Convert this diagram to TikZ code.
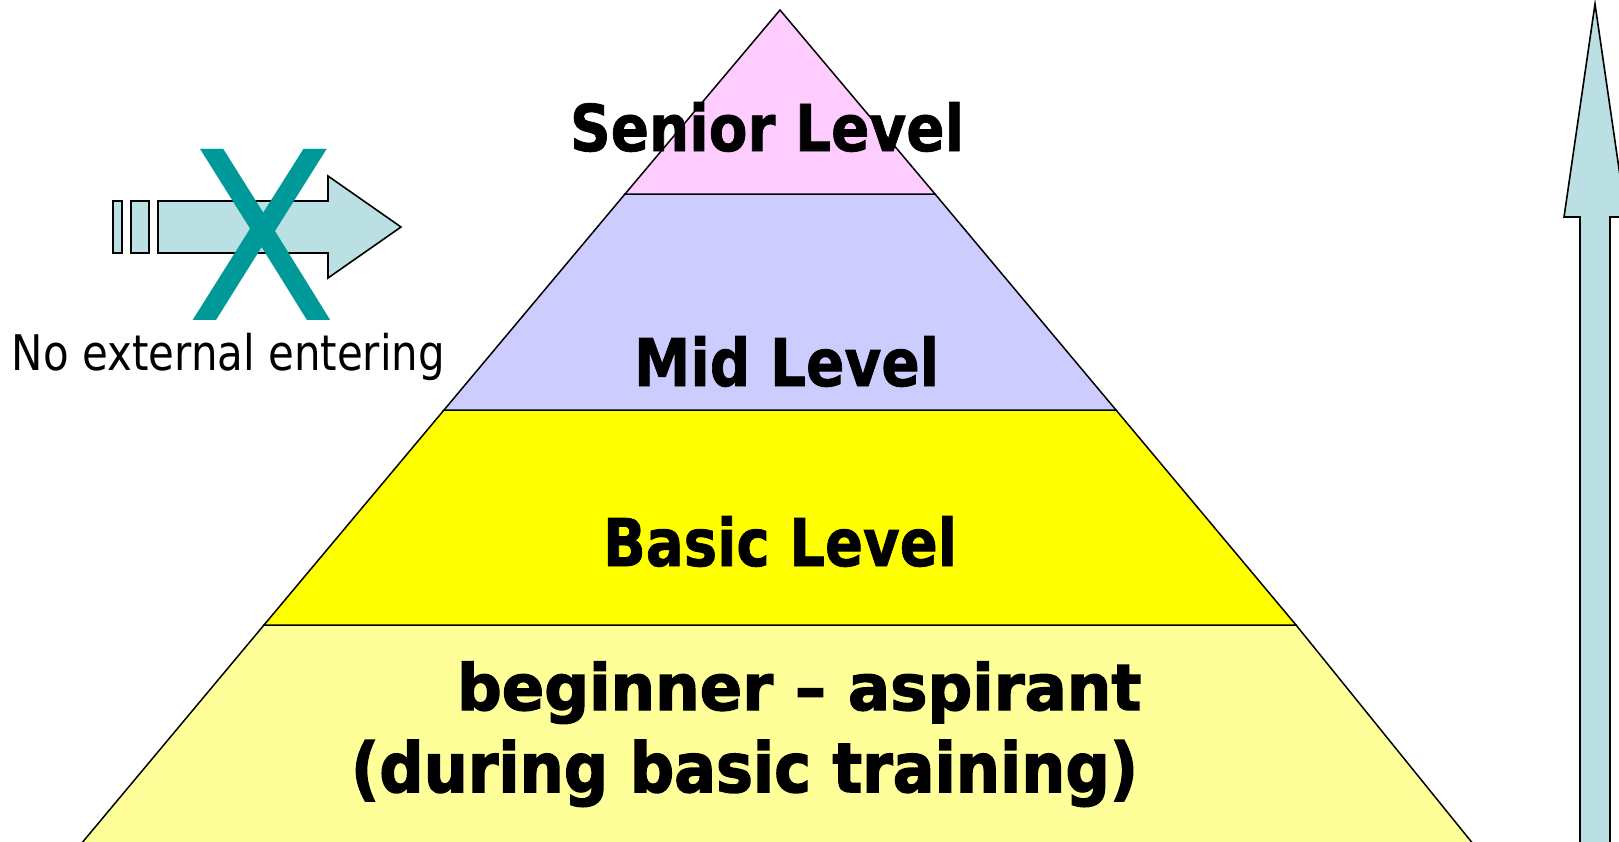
\documentclass[tikz,border=0pt]{standalone}
\usepackage{fontspec}
\usepackage{graphicx}
\newfontfamily\dvs{DejaVu Sans}
\newfontfamily\dvsb{DejaVu Sans Bold}[FakeBold=1.2]
\newfontfamily\dvsbb{DejaVu Sans Bold}[FakeBold=2.2]
\definecolor{pinkband}{HTML}{FFCCFF}
\definecolor{lavband}{HTML}{CCCCFF}
\definecolor{yelband}{HTML}{FFFF00}
\definecolor{lyelband}{HTML}{FFFF99}
\definecolor{arrowfill}{HTML}{BBE0E3}
\definecolor{xteal}{HTML}{009999}
\newcommand{\fitb}[3]{\resizebox{#1pt}{#2pt}{\dvsb #3}}
\newcommand{\fitbb}[3]{\resizebox{#1pt}{#2pt}{\dvsbb #3}}
\newcommand{\fitr}[3]{\resizebox{#1pt}{#2pt}{\dvs #3}}
\tikzset{
  band/.style={draw=black, line width=1.5pt, line join=miter},
  arrowshape/.style={draw=black, line width=1.6pt, fill=arrowfill, line join=miter},
  lbl/.style={anchor=base west, inner sep=0pt, outer sep=0pt, text=black}
}
\begin{document}
\begin{tikzpicture}[x=1pt, y=-1pt]
\useasboundingbox (0,0) rectangle (1619,841);
\clip (0,0) rectangle (1619,841);
\fill[white] (0,0) rectangle (1619,841);
% pyramid bands
\draw[band, fill=lyelband] (264,625) -- (1296,625) -- (1478,850) -- (76,850) -- cycle;
\draw[band, fill=yelband] (444,410) -- (1116,410) -- (1296,625) -- (264,625) -- cycle;
\draw[band, fill=lavband] (625,194) -- (935,194) -- (1116,410) -- (444,410) -- cycle;
\draw[band, fill=pinkband] (780,10) -- (935,194) -- (625,194) -- cycle;
% right upward arrow
\draw[arrowshape] (1580,850) -- (1580,217) -- (1564,217) -- (1595,4) -- (1626,217) -- (1610,217) -- (1610,850) -- cycle;
% left blocked arrow
\draw[arrowshape] (113,201) rectangle (122,253);
\draw[arrowshape] (131,201) rectangle (149,253);
\draw[arrowshape] (158,201) -- (328,201) -- (328,176) -- (401,227) -- (328,278) -- (328,253) -- (158,253) -- cycle;
\node[lbl, text=xteal] (cross) at (186,320) {\fitr{151}{171}{X}};
\node[lbl] (noext) at (12,370) {\fitr{433}{37.3}{No external entering}};
% level labels
\node[lbl] (senior) at (570,151) {\fitb{394}{49}{Senior Level}};
\node[lbl] (mid) at (634,386) {\fitb{305}{50}{Mid Level}};
\node[lbl] (basic) at (603,566) {\fitb{354}{50}{Basic Level}};
\node[lbl] (begin1) at (457,710) {\fitbb{684}{48.5}{beginner – aspirant}};
\node[lbl] (begin2) at (351,792) {\fitbb{787}{52}{(during basic training)}};
\end{tikzpicture}
\end{document}
